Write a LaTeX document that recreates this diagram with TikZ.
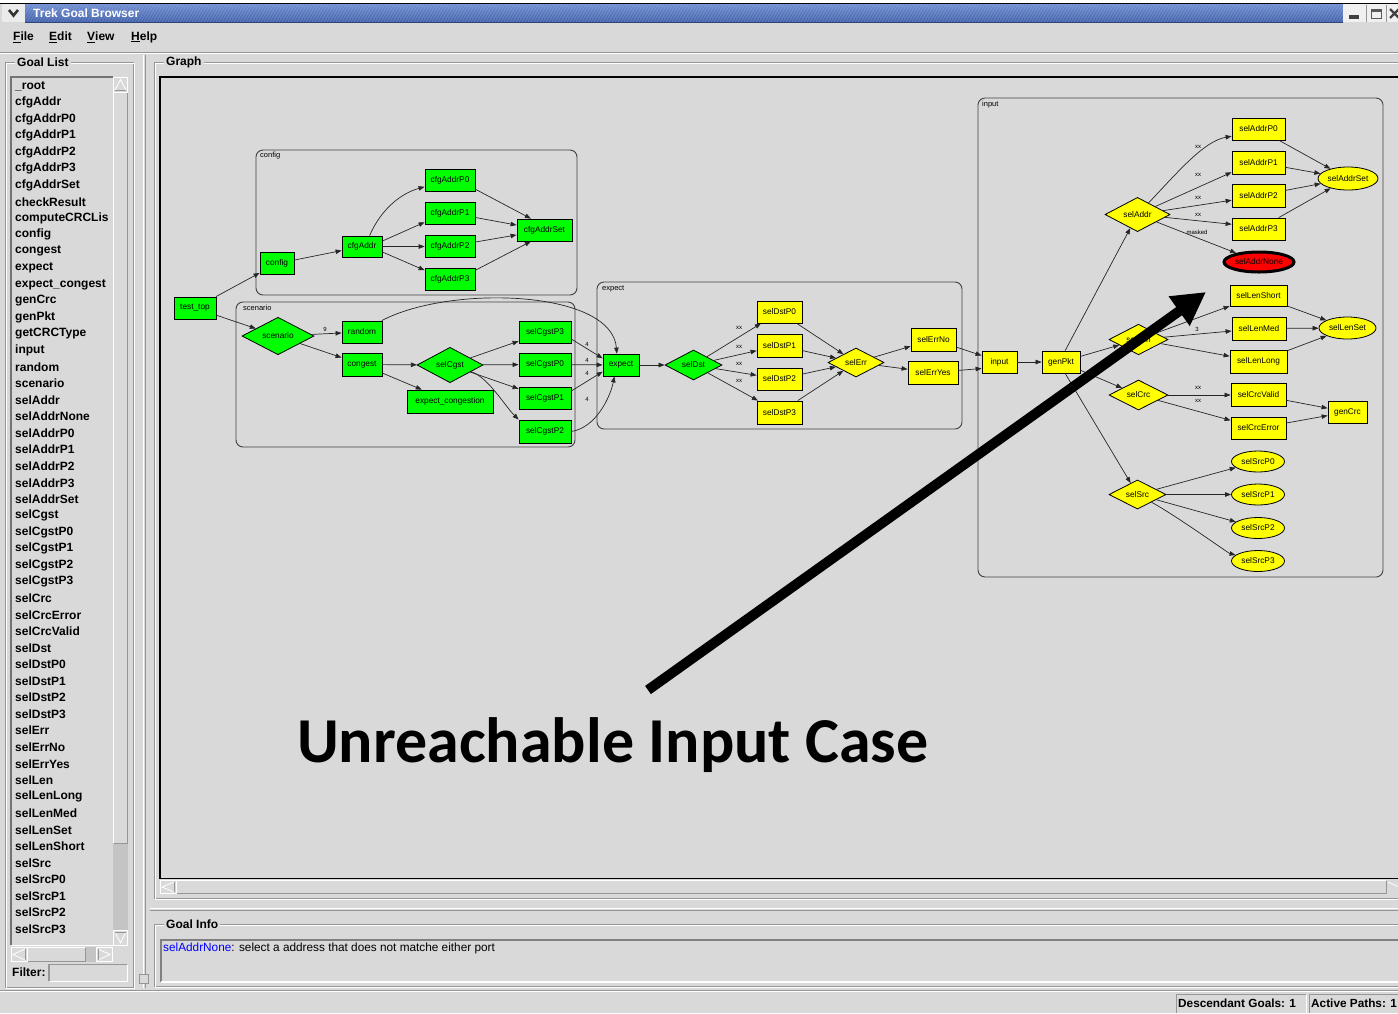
\documentclass[tikz,border=0pt]{standalone}
\usepackage{fontspec}
\setmainfont{Liberation Sans}
\newfontfamily\captionfamily{Carlito}
\usetikzlibrary{shapes.geometric,arrows.meta}
\definecolor{winbg}{RGB}{217,217,217}
\definecolor{nodegreen}{RGB}{0,255,0}
\definecolor{nodeyellow}{RGB}{255,255,0}
\definecolor{nodered}{RGB}{255,0,0}
\definecolor{etchdark}{RGB}{150,150,150}
\definecolor{titleblue}{RGB}{66,98,172}
\definecolor{titlelight}{RGB}{112,142,208}
\definecolor{trackgrey}{RGB}{196,196,196}
\definecolor{linkblue}{RGB}{0,0,255}
\newcommand\graphnodefont{\fontsize{8.3}{9}\selectfont}
\newcommand\edgelabelfont{\fontsize{6}{6}\selectfont}
\newcommand\uifont{\fontsize{12}{14}\selectfont\bfseries}

\begin{document}
\begin{tikzpicture}[x=1pt,y=-1pt,
  gbox/.style={draw=black, line width=0.8pt, rectangle, inner sep=0pt, minimum height=22, font=\graphnodefont},
  gdia/.style={draw=black, line width=0.8pt, diamond, inner sep=0pt, font=\graphnodefont},
  gell/.style={draw=black, line width=0.8pt, ellipse, inner sep=0pt, font=\graphnodefont},
  gr/.style={fill=nodegreen},
  yl/.style={fill=nodeyellow},
  edge/.style={draw=black!85, line width=0.7pt, -{Triangle[length=6pt,width=4.5pt]}},
  elabel/.style={font=\edgelabelfont, inner sep=0pt},
  cluster/.style={draw=black!75, line width=0.9pt, rounded corners=7pt},
  clabel/.style={font=\fontsize{7.5}{8}\selectfont, anchor=west, inner sep=0pt},
  listitem/.style={font=\uifont, anchor=west, inner sep=0pt},
  uitext/.style={font=\uifont, anchor=west, inner sep=0pt},
  framedark/.style={draw=etchdark, line width=1pt},
  framelight/.style={draw=white, line width=1pt},
  arrowbtn/.style={draw=white, line width=0.8pt, fill=winbg},
]
\useasboundingbox (0,0) rectangle (1398,1013);
\fill[winbg] (0,0) rectangle (1398,1013);

% ---------- title bar ----------
\fill[white] (0,0) rectangle (1398,3);
\draw[black, line width=1.2pt] (0,3.5) -- (1398,3.5);
\fill[black!8] (2,4) rectangle (25,22);
\draw[black!80, line width=2.6pt] (9,10) -- (13.5,15.5) -- (18,10);
\begin{scope}
  \clip (25,4) rectangle (1343,22);
  \shade[top color=titlelight, bottom color=titleblue] (25,4) rectangle (1343,22);
  \foreach \s in {0,3,...,1330}
    \draw[white, opacity=0.16, line width=0.8pt] (18+\s,22) -- (28+\s,4);
\end{scope}
\draw[titleblue!70!black, line width=0.8pt] (25,22) -- (1343,22);
\node[font=\uifont, text=white, anchor=west, inner sep=0pt] (wintitle) at (33,13.5) {Trek Goal Browser};
\fill[black!6] (1343,4) rectangle (1398,22);
\draw[etchdark, line width=0.6pt] (1366.5,5) -- (1366.5,22) (1386.5,5) -- (1386.5,22);
\fill[black!75] (1349,15) rectangle (1359,18.5);
\draw[black!65, line width=1pt] (1371.5,9.5) rectangle (1381.5,18.5);
\fill[black!65] (1371,9) rectangle (1382,12);
\draw[black!75, line width=2.4pt] (1390,9) -- (1399,18) (1390,18) -- (1399,9);

% ---------- menu bar ----------
\node[uitext] (mfile) at (13,37) {\underline{F}ile};
\node[uitext] (medit) at (49,37) {\underline{E}dit};
\node[uitext] (mview) at (87,37) {\underline{V}iew};
\node[uitext] (mhelp) at (131,37) {\underline{H}elp};
\draw[etchdark, line width=1pt] (0,52) -- (1398,52);
\draw[white, line width=1pt] (0,53.2) -- (1398,53.2);

% ---------- goal list panel ----------
\draw[framedark] (5.5,62.5) rectangle (133.5,987.5);
\draw[framelight] (6.5,63.5) rectangle (134.5,988.5);
\node[uitext, fill=winbg, inner xsep=2pt] (goallisttitle) at (15,62) {Goal List};
\draw[black!55, line width=1.2pt] (11,945) -- (11,77) -- (113,77);
\draw[white, line width=1pt] (11,945.5) -- (113,945.5);
% vertical scrollbar
\fill[trackgrey] (113,843) rectangle (128,930);
\draw[arrowbtn] (113.5,77.5) rectangle (127.5,92);
\draw[white, line width=0.8pt] (115,90) -- (120.5,79.5) -- (126,90);
\draw[etchdark, line width=0.6pt] (115,90) -- (126,90);
\draw[white, line width=0.8pt] (113.5,843) -- (113.5,92.5) -- (127.5,92.5);
\draw[etchdark, line width=0.8pt] (127.5,92.5) -- (127.5,843) -- (113.5,843);
\draw[arrowbtn] (113.5,930) rectangle (127.5,945);
\draw[white, line width=0.8pt] (115,932) -- (120.5,943) -- (126,932);
\draw[etchdark, line width=0.6pt] (115,932) -- (126,932);
% horizontal scrollbar
\fill[trackgrey] (85,947) rectangle (96,962);
\draw[arrowbtn] (11.5,947.5) rectangle (27,961.5);
\draw[white, line width=0.8pt] (25,949) -- (13,954.5) -- (25,960);
\draw[etchdark, line width=0.6pt] (25,949) -- (25,960);
\draw[white, line width=0.8pt] (27.5,961.5) -- (27.5,947.5) -- (85,947.5);
\draw[etchdark, line width=0.8pt] (85,947.5) -- (85,961.5) -- (27.5,961.5);
\draw[arrowbtn] (96.5,947.5) rectangle (112,961.5);
\draw[white, line width=0.8pt] (98,949) -- (110,954.5) -- (98,960);
\draw[etchdark, line width=0.6pt] (98,949) -- (98,960);
% filter
\node[uitext] (filterlabel) at (12,972.5) {Filter:};
\draw[etchdark, line width=1.2pt] (49,981) -- (49,964.5) -- (127,964.5);
\draw[white, line width=1pt] (49.5,981) -- (127,981) -- (127,965);
% goal names
\foreach \goalname [count=\i from 0] in {\_root, cfgAddr, cfgAddrP0, cfgAddrP1, cfgAddrP2, cfgAddrP3,
  cfgAddrSet, checkResult, computeCRCLis, config, congest, expect, expect\_congest, genCrc, genPkt,
  getCRCType, input, random, scenario, selAddr, selAddrNone, selAddrP0, selAddrP1, selAddrP2,
  selAddrP3, selAddrSet, selCgst, selCgstP0, selCgstP1, selCgstP2, selCgstP3, selCrc, selCrcError,
  selCrcValid, selDst, selDstP0, selDstP1, selDstP2, selDstP3, selErr, selErrNo, selErrYes, selLen,
  selLenLong, selLenMed, selLenSet, selLenShort, selSrc, selSrcP0, selSrcP1, selSrcP2, selSrcP3}
  \node[listitem] (goal\i) at (15,{86+16.53*\i}) {\goalname};

% ---------- splitters ----------
\draw[white, line width=1pt] (143.5,55) -- (143.5,988);
\draw[etchdark, line width=1pt] (145,55) -- (145,988);
\draw[arrowbtn, draw=etchdark] (139.5,974.5) rectangle (148,983);
\draw[white, line width=1pt] (150,908.5) -- (1398,908.5);
\draw[etchdark, line width=0.8pt] (150,910) -- (1398,910);

% ---------- graph panel ----------
\draw[framedark] (154.5,62.5) rectangle (1410,898.5);
\draw[framelight] (155.5,63.5) rectangle (1410,899.5);
\node[uitext, fill=winbg, inner xsep=2pt] (graphtitle) at (164,62) {Graph};
\draw[black, line width=1.5pt] (159.75,76.75) rectangle (1410,878.5);
% graph scrollbar
\draw[arrowbtn] (160.5,880.5) rectangle (176,893.5);
\draw[white, line width=0.8pt] (174,882) -- (162,887) -- (174,892);
\draw[etchdark, line width=0.6pt] (174,882) -- (174,892);
\draw[white, line width=0.8pt] (176.5,893.5) -- (176.5,880.5) -- (1386,880.5);
\draw[etchdark, line width=0.8pt] (1386,880.5) -- (1386,893.5) -- (176.5,893.5);
\draw[white, line width=0.8pt] (1388,882) -- (1399,887);

% ---------- goal info panel ----------
\draw[framedark] (154.5,924.5) rectangle (1410,986.5);
\draw[framelight] (155.5,925.5) rectangle (1410,987.5);
\node[uitext, fill=winbg, inner xsep=2pt] (infotitle) at (164,924) {Goal Info};
\draw[black!50, line width=2pt] (161,982) -- (161,940) -- (1400,940);
\draw[white, line width=2pt] (161,982) -- (1400,982);
\node[font=\fontsize{11.8}{13}\selectfont, anchor=west, inner sep=0pt] (infotext) at (163,948.5)
  {\textcolor{linkblue}{selAddrNone}: select a address that does not matche either port};

% ---------- status bar ----------
\draw[etchdark, line width=1pt] (0,990) -- (1398,990);
\draw[white, line width=1pt] (0,991.2) -- (1398,991.2);
\draw[etchdark, line width=1pt] (1176.5,1013) -- (1176.5,994.5) -- (1306,994.5);
\draw[white, line width=1pt] (1306,995) -- (1306,1013);
\node[font=\fontsize{11.8}{13}\selectfont\bfseries, anchor=west, inner sep=0pt] (descgoals) at (1178,1003.5) {Descendant Goals: 1};
\draw[etchdark, line width=1pt] (1309.5,1013) -- (1309.5,994.5) -- (1400,994.5);
\node[font=\fontsize{11.8}{13}\selectfont\bfseries, anchor=west, inner sep=0pt] (actpaths) at (1311,1003.5) {Active Paths: 1};

% ---------- clusters ----------
\draw[cluster] (256,150) rectangle (577,295);
\node[clabel] (cconfig) at (260,155.5) {config};
\draw[cluster] (236,302) rectangle (575,447);
\node[clabel] (cscenario) at (243,307.5) {scenario};
\draw[cluster] (597,282) rectangle (962,429);
\node[clabel] (cexpect) at (602,289) {expect};
\draw[cluster] (978,98) rectangle (1383,577);
\node[clabel] (cinput) at (982,104.5) {input};

% ---------- goal nodes ----------
\node[gbox, gr, minimum width=42] (test_top) at (195,308) {test\_top};
\node[gbox, gr, minimum width=34] (config) at (277,263.5) {config};
\node[gbox, gr, minimum width=40, minimum height=21] (cfgAddr) at (362,246.5) {cfgAddr};
\node[gbox, gr, minimum width=50] (cfgAddrP0) at (450,180) {cfgAddrP0};
\node[gbox, gr, minimum width=50] (cfgAddrP1) at (450,213) {cfgAddrP1};
\node[gbox, gr, minimum width=50] (cfgAddrP2) at (450,246.5) {cfgAddrP2};
\node[gbox, gr, minimum width=50] (cfgAddrP3) at (450,279.5) {cfgAddrP3};
\node[gbox, gr, minimum width=55] (cfgAddrSet) at (544.5,230) {cfgAddrSet};

\node[gdia, gr, minimum width=72, minimum height=30] (scenario) at (278,336) {scenario};
\node[gbox, gr, minimum width=40] (random) at (362,332) {random};
\node[gbox, gr, minimum width=40, minimum height=23] (congest) at (362,364.5) {congest};
\node[gdia, gr, minimum width=66, minimum height=29] (selCgst) at (450,365) {selCgst};
\node[gbox, gr, minimum width=86, minimum height=23] (expect_congestion) at (450,401.5) {expect\_congestion};
\node[gbox, gr, minimum width=52] (selCgstP3) at (545,332) {selCgstP3};
\node[gbox, gr, minimum width=52, minimum height=23] (selCgstP0) at (545,364.5) {selCgstP0};
\node[gbox, gr, minimum width=52] (selCgstP1) at (545,398) {selCgstP1};
\node[gbox, gr, minimum width=52, minimum height=23] (selCgstP2) at (545,431.5) {selCgstP2};

\node[gbox, gr, minimum width=36] (expect) at (621,365) {expect};
\node[gdia, gr, minimum width=57, minimum height=30] (selDst) at (693.5,365) {selDst};
\node[gbox, yl, minimum width=45] (selDstP0) at (779.5,312) {selDstP0};
\node[gbox, yl, minimum width=45, minimum height=23] (selDstP1) at (779.5,345.5) {selDstP1};
\node[gbox, yl, minimum width=45] (selDstP2) at (779.5,379) {selDstP2};
\node[gbox, yl, minimum width=45, minimum height=23] (selDstP3) at (779.5,412.5) {selDstP3};
\node[gdia, yl, minimum width=56, minimum height=29] (selErr) at (856,362.5) {selErr};
\node[gbox, yl, minimum width=45, minimum height=23] (selErrNo) at (933.5,339.5) {selErrNo};
\node[gbox, yl, minimum width=50, minimum height=23] (selErrYes) at (933,372.5) {selErrYes};

\node[gbox, yl, minimum width=35] (input) at (999.5,362) {input};
\node[gbox, yl, minimum width=38] (genPkt) at (1061,362) {genPkt};
\node[gdia, yl, minimum width=65, minimum height=29] (selAddr) at (1137.5,214.5) {selAddr};
\node[gbox, yl, minimum width=53] (selAddrP0) at (1258.5,129) {selAddrP0};
\node[gbox, yl, minimum width=53, minimum height=23] (selAddrP1) at (1258.5,162.5) {selAddrP1};
\node[gbox, yl, minimum width=53, minimum height=23] (selAddrP2) at (1258.5,195.5) {selAddrP2};
\node[gbox, yl, minimum width=53] (selAddrP3) at (1258.5,229) {selAddrP3};
\node[gell, yl, minimum width=60, minimum height=23] (selAddrSet) at (1348,178.5) {selAddrSet};
\node[gell, fill=nodered, line width=3pt, minimum width=70, minimum height=20] (selAddrNone) at (1259,262) {selAddrNone};

\node[gdia, yl, minimum width=59, minimum height=29] (selLen) at (1138.5,339.5) {selLen};
\node[gbox, yl, minimum width=57, minimum height=21] (selLenShort) at (1258.5,295.5) {selLenShort};
\node[gbox, yl, minimum width=54, minimum height=23] (selLenMed) at (1259,328.5) {selLenMed};
\node[gbox, yl, minimum width=57, minimum height=23] (selLenLong) at (1258.5,361.5) {selLenLong};
\node[gell, yl, minimum width=57, minimum height=22] (selLenSet) at (1347.5,328) {selLenSet};
\node[gdia, yl, minimum width=59, minimum height=30] (selCrc) at (1138.5,395) {selCrc};
\node[gbox, yl, minimum width=55, minimum height=23] (selCrcValid) at (1258.5,395) {selCrcValid};
\node[gbox, yl, minimum width=55, minimum height=22] (selCrcError) at (1258.5,428) {selCrcError};
\node[gbox, yl, minimum width=39, minimum height=22] (genCrc) at (1347.5,412) {genCrc};
\node[gdia, yl, minimum width=57, minimum height=29] (selSrc) at (1137.5,494.5) {selSrc};
\node[gell, yl, minimum width=53, minimum height=21] (selSrcP0) at (1258,461.5) {selSrcP0};
\node[gell, yl, minimum width=53, minimum height=21] (selSrcP1) at (1258,494.5) {selSrcP1};
\node[gell, yl, minimum width=53, minimum height=21] (selSrcP2) at (1258,528) {selSrcP2};
\node[gell, yl, minimum width=53, minimum height=21] (selSrcP3) at (1258,561) {selSrcP3};

% ---------- connectors ----------
\draw[edge] (test_top) -- (config);
\draw[edge] (test_top) -- (scenario);
\draw[edge] (config) -- (cfgAddr);
\draw[edge] (cfgAddr.55) .. controls +(12,-28) and +(-22,6) .. (cfgAddrP0.-165);
\draw[edge] (cfgAddr.15) -- (cfgAddrP1.200);
\draw[edge] (cfgAddr) -- (cfgAddrP2);
\draw[edge] (cfgAddr.-15) -- (cfgAddrP3.160);
\draw[edge] (cfgAddrP0.-20) -- (cfgAddrSet.140);
\draw[edge] (cfgAddrP1.-10) -- (cfgAddrSet.170);
\draw[edge] (cfgAddrP2.10) -- (cfgAddrSet.190);
\draw[edge] (cfgAddrP3.20) -- (cfgAddrSet.-140);

\draw[edge] (scenario) -- (random);
\draw[edge] (scenario) -- (congest);
\draw[edge] (congest) -- (selCgst);
\draw[edge] (congest) -- (expect_congestion);
\draw[edge] (selCgst) -- (selCgstP3);
\draw[edge] (selCgst) -- (selCgstP0);
\draw[edge] (selCgst) -- (selCgstP1);
\draw[edge] (selCgst) .. controls +(38,12) and +(-14,-14) .. (selCgstP2.north west);

\draw[edge] (selCgstP3.-15) -- (expect.160);
\draw[edge] (selCgstP0) -- (expect);
\draw[edge] (selCgstP1.15) -- (expect.200);
\draw[edge] (selCgstP2.east) .. controls +(25,-4) and +(-4,20) .. (expect.-120);
\draw[edge] (random.30) .. controls +(68,-36) and +(-5,-64) .. (expect.110);

\draw[edge] (expect) -- (selDst);
\draw[edge] (selDst) -- (selDstP0);
\draw[edge] (selDst) -- (selDstP1);
\draw[edge] (selDst) -- (selDstP2);
\draw[edge] (selDst) -- (selDstP3);
\draw[edge] (selDstP0) -- (selErr);
\draw[edge] (selDstP1) -- (selErr);
\draw[edge] (selDstP2) -- (selErr);
\draw[edge] (selDstP3) -- (selErr);
\draw[edge] (selErr) -- (selErrNo);
\draw[edge] (selErr) -- (selErrYes);
\draw[edge] (selErrNo) -- (input.160);
\draw[edge] (selErrYes) -- (input.200);

\draw[edge] (input) -- (genPkt);
\draw[edge] (genPkt.70) -- (selAddr);
\draw[edge] (genPkt) -- (selLen);
\draw[edge] (genPkt) -- (selCrc);
\draw[edge] (genPkt.-70) -- (selSrc);
\draw[edge] (selAddr) .. controls +(40,-42) and +(-28,5) .. (selAddrP0.-165);
\draw[edge] (selAddr) -- (selAddrP1.-160);
\draw[edge] (selAddr) -- (selAddrP2.-170);
\draw[edge] (selAddr) -- (selAddrP3.170);
\draw[edge] (selAddr) -- (selAddrNone);
\draw[edge] (selAddrP0) -- (selAddrSet);
\draw[edge] (selAddrP1) -- (selAddrSet);
\draw[edge] (selAddrP2) -- (selAddrSet);
\draw[edge] (selAddrP3) -- (selAddrSet);
\draw[edge] (selLen) -- (selLenShort);
\draw[edge] (selLen) -- (selLenMed);
\draw[edge] (selLen) -- (selLenLong);
\draw[edge] (selLenShort) -- (selLenSet);
\draw[edge] (selLenMed) -- (selLenSet);
\draw[edge] (selLenLong) -- (selLenSet);
\draw[edge] (selCrc) -- (selCrcValid);
\draw[edge] (selCrc) -- (selCrcError);
\draw[edge] (selCrcValid) -- (genCrc);
\draw[edge] (selCrcError) -- (genCrc);
\draw[edge] (selSrc) -- (selSrcP0);
\draw[edge] (selSrc) -- (selSrcP1);
\draw[edge] (selSrc) -- (selSrcP2);
\draw[edge] (selSrc) .. controls +(40,22) and +(-30,-8) .. (selSrcP3);

% ---------- connector labels ----------
\node[elabel] (l9) at (325,329) {9};
\node[elabel] (lc3) at (587,344) {4};
\node[elabel] (lc0) at (587,360.5) {4};
\node[elabel] (lc1) at (587,373) {4};
\node[elabel] (lc2) at (587,399) {4};
\node[elabel] (ld0) at (739,328) {xx};
\node[elabel] (ld1) at (739,347) {xx};
\node[elabel] (ld2) at (739,364) {xx};
\node[elabel] (ld3) at (739,381) {xx};
\node[elabel] (la0) at (1198,147) {xx};
\node[elabel] (la1) at (1198,175) {xx};
\node[elabel] (la2) at (1198,198) {xx};
\node[elabel] (la3) at (1198,215) {xx};
\node[elabel] (lmasked) at (1197,232) {masked};
\node[elabel] (l3) at (1197,329.5) {3};
\node[elabel] (lcv) at (1198,388) {xx};
\node[elabel] (lce) at (1198,401) {xx};

% ---------- annotation ----------
\coordinate (pointertail) at (648,690);
\coordinate (pointertip) at (1206,292);
\draw[black, line width=10pt, -{Triangle[length=33pt,width=34pt]}] (pointertail) -- (pointertip);
\node[font=\captionfamily\bfseries\fontsize{64}{70}\selectfont, anchor=base west, inner sep=0pt]
  (caption) at (297,762) {Unreachable Input Case};
\end{tikzpicture}
\end{document}
